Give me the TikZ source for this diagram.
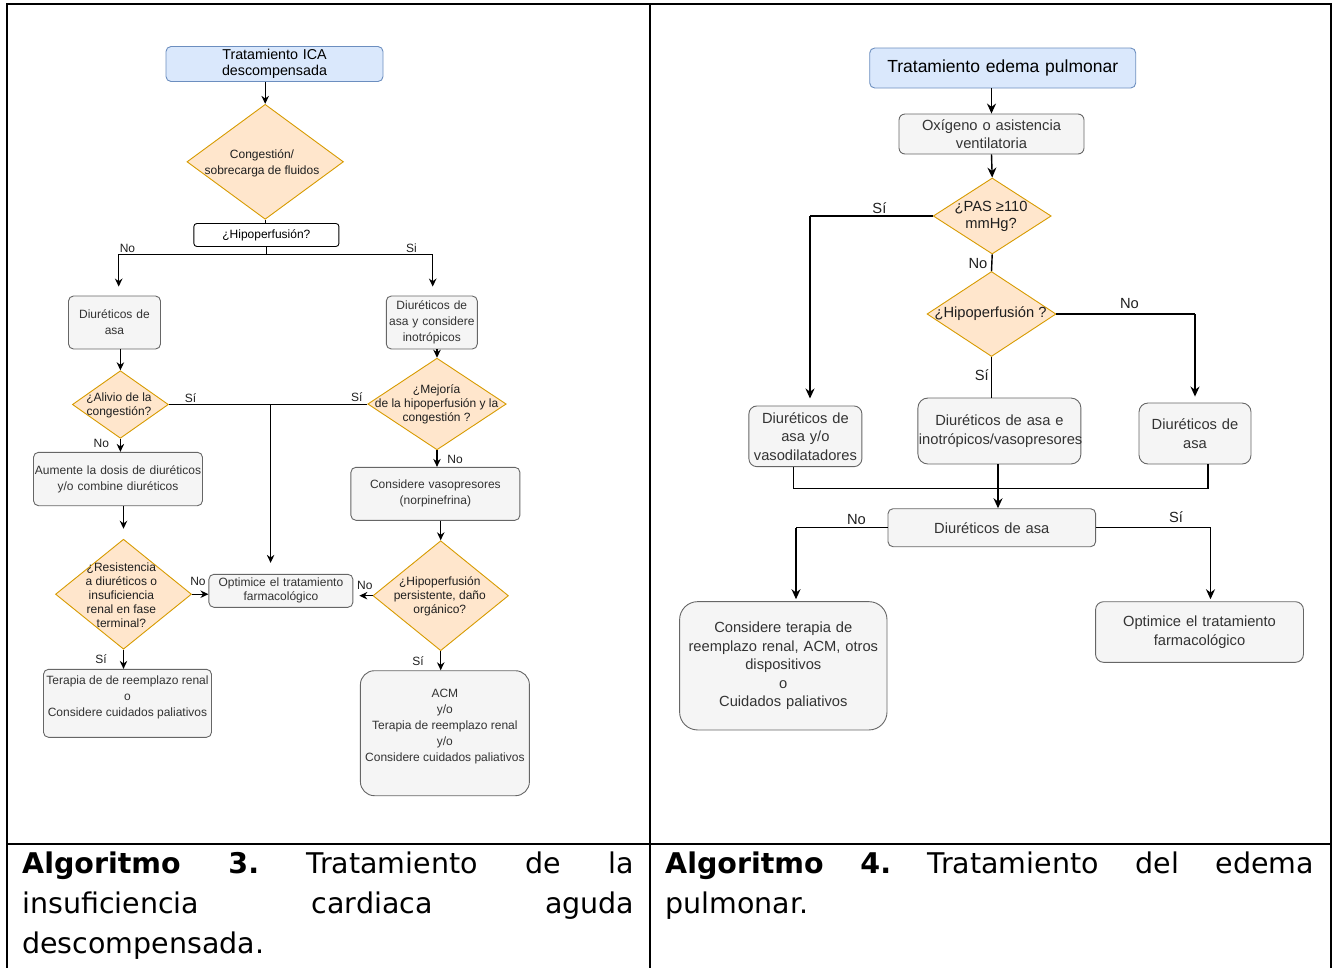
\documentclass[tikz,border=0pt]{standalone}
\usepackage{fontspec}
\setmainfont{Liberation Sans}
\newfontfamily\capfont{DejaVu Sans}
\usetikzlibrary{shapes.geometric,arrows.meta}

\definecolor{bluefill}{HTML}{DAE8FC}
\definecolor{blueline}{HTML}{6C8EBF}
\definecolor{orfill}{HTML}{FFE6CC}
\definecolor{orline}{HTML}{D79B00}
\definecolor{gfill}{HTML}{F5F5F5}
\definecolor{gline}{HTML}{666666}
\definecolor{gtext}{HTML}{333333}

% font sizes (left flowchart, right flowchart, captions)
\newcommand\fontLbox{\fontsize{12}{16}\selectfont}
\newcommand\fontLdia{\fontsize{12}{14}\selectfont}
\newcommand\fontLtitle{\fontsize{14.3}{16}\selectfont}
\newcommand\fontRbox{\fontsize{14.7}{18.5}\selectfont}
\newcommand\fontRtitle{\fontsize{17.5}{20}\selectfont}
\newcommand\fontCap{\capfont\fontsize{28.5}{40}\selectfont}
% one caption line spread over the full column width
\newcommand\spreadline[2]{\leavevmode\hbox to #1{#2}}

\begin{document}
\begin{tikzpicture}[x=1pt,y=-1pt,
  base/.style={inner xsep=1pt, inner ysep=0pt, align=center, line width=0.9pt},
  gbox/.style 2 args={base, draw=gline, fill=gfill, text=gtext, rounded corners=5pt, text width=#1pt, minimum height=#2pt},
  bbox/.style 2 args={base, draw=blueline, fill=bluefill, text=black, rounded corners=5pt, text width=#1pt, minimum height=#2pt},
  wbox/.style 2 args={base, draw=black, fill=white, text=black, rounded corners=3pt, text width=#1pt, minimum height=#2pt},
  dia/.style 2 args={diamond, draw=orline, fill=orfill, line width=0.9pt, inner sep=0pt, minimum width=#1pt, minimum height=#2pt},
  dtext/.style={inner sep=0pt, align=center, text=black!88},
  btext/.style={inner sep=0pt, align=center, text=gtext},
  lbl/.style={inner sep=0pt, text=black!88},
  conL/.style={line width=1.1pt},
  arrL/.style={conL, -{Stealth[length=8pt,width=7.5pt]}},
  conR/.style={line width=1.4pt},
  arrR/.style={conR, -{Stealth[length=10pt,width=9pt]}},
  frame/.style={line width=2pt, line cap=rect},
  capt/.style={inner sep=0pt, align=left, font=\fontCap, anchor=base west}
]
\useasboundingbox (0,0) rectangle (1332,967);

% ---------- table frame ----------
\draw[frame] (6.5,3.5) -- (1330.5,3.5);
\draw[frame] (6.5,3.5) -- (6.5,967);
\draw[frame] (1330.5,3.5) -- (1330.5,967);
\draw[frame] (650,3.5) -- (650,967);
\draw[frame] (6.5,844.3) -- (1330.5,844.3);

% ---------- left flowchart: ICA descompensada ----------
\begin{scope}[font=\fontLbox]
\node[bbox={215}{35}, font=\fontLtitle] (t1) at (274.5,64) {Tratamiento ICA\\descompensada};
\node[dia={156.5}{115}] (d1) at (265.2,161.8) {};
\node[dtext, font=\fontsize{12}{16.5}\selectfont] (d1t) at (262,163.3) {Congestión/\\sobrecarga de fluidos};
\node[wbox={143}{23}] (hq) at (266.4,235) {¿Hipoperfusión?};

\node[gbox={90}{53}] (b1) at (114.5,322.5) {Diuréticos de\\asa};
\node[gbox={89}{53}] (b2) at (431.8,322.5) {Diuréticos de\\asa y considere\\inotrópicos};

\node[dia={96}{67.6}] (d2) at (120.4,404.5) {};
\node[dtext, font=\fontLdia] (d2t) at (119,405.5) {¿Alivio de la\\congestión?};
\node[dia={138.5}{91.7}] (d3) at (437,404) {};
\node[dtext, font=\fontLdia] (d3t) at (436.6,404) {¿Mejoría\\de la hipoperfusión y la\\congestión ?};

\node[gbox={167}{53.4}] (b3) at (118,479) {Aumente la dosis de diuréticos\\y/o combine diuréticos};
\node[gbox={167}{53}] (b5) at (435.4,493.8) {Considere vasopresores\\(norpinefrina)};

\node[dia={136}{110}] (d4) at (123.5,594.2) {};
\node[dtext, font=\fontLdia] (d4t) at (121.4,595.5) {¿Resistencia\\a diuréticos o\\insuficiencia\\renal en fase\\terminal?};
\node[gbox={142}{33}, font=\fontLdia] (opt) at (280.9,590.8) {Optimice el tratamiento\\farmacológico};
\node[dia={135.5}{110}] (d5) at (440.7,595.7) {};
\node[dtext, font=\fontLdia] (d5t) at (439.8,596.6) {¿Hipoperfusión\\persistente, daño\\orgánico?};

\node[gbox={166}{68}] (b4) at (127.5,703.3) {};
\node[btext] (b4t) at (127.5,697) {Terapia de de reemplazo renal\\o\\Considere cuidados paliativos};
\node[gbox={167}{125}, rounded corners=14pt] (b6) at (444.9,733.2) {};
\node[btext] (b6t) at (444.9,726.5) {ACM\\y/o\\Terapia de reemplazo renal\\y/o\\Considere cuidados paliativos};

% connectors
\draw[arrL] (t1.south -| d1.north) -- (d1.north);
\draw[conL] (d1.south) -- (d1.south |- hq.north);
\coordinate (j1) at (266.4,254.3);
\coordinate (jl) at (118.7,254.3);
\coordinate (jr) at (432.7,254.3);
\draw[conL] (hq.south) -- (j1);
\draw[conL] (jl) -- (jr);
\draw[arrL, shorten >=9pt] (jl) -- (jl |- b1.north);
\draw[arrL, shorten >=9pt] (jr) -- (jr |- b2.north);
\draw[arrL] (b1.south -| d2.north) -- (d2.north);
\draw[arrL] (b2.south -| d3.north) -- (d3.north);
\draw[conL] (d2.east) -- (d2.east -| d3.west);
\coordinate (j2) at (270.6,404.5);
\draw[arrL, shorten >=11pt] (j2) -- (j2 |- opt.north);
\draw[arrL] (d2.south) -- (d2.south |- b3.north);
\draw[arrL, shorten >=10pt] (b3.south -| d4.north) -- (d4.north);
\draw[arrL] (d3.south) -- (d3.south |- b5.north);
\draw[arrL] (b5.south -| d5.north) -- (d5.north);
\draw[arrL] (d4.east) -- (d4.east -| opt.west);
\draw[arrL, shorten >=6pt] (d5.west) -- (d5.west -| opt.east);
\draw[arrL] (d4.south) -- (d4.south |- b4.north);
\draw[arrL] (d5.south) -- (d5.south |- b6.north);

% branch labels
\node[lbl] (l1) at (127.5,248) {No};
\node[lbl] (l2) at (411.5,248) {Si};
\node[lbl] (l3) at (190.5,398.3) {Sí};
\node[lbl] (l4) at (356.7,397.3) {Sí};
\node[lbl] (l5) at (101.4,443.3) {No};
\node[lbl] (l6) at (455,459.3) {No};
\node[lbl] (l7) at (198,581.7) {No};
\node[lbl] (l8) at (364.8,585) {No};
\node[lbl] (l9) at (101,659.3) {Sí};
\node[lbl] (l10) at (418,661) {Sí};
\end{scope}

% ---------- right flowchart: edema pulmonar ----------
\begin{scope}[font=\fontRbox]
\node[bbox={264}{40}, font=\fontRtitle] (t2) at (1002.7,68) {Tratamiento edema pulmonar};
\node[gbox={183}{40}, rounded corners=6pt] (o1) at (991.5,134) {Oxígeno o asistencia\\ventilatoria};
\node[dia={118}{76}] (p1) at (992.2,216) {};
\node[dtext, font=\fontsize{14.7}{16.5}\selectfont] (p1t) at (991,216.5) {¿PAS ≥110\\mmHg?};
\node[dia={129}{85}] (p2) at (991.5,314) {};
\node[dtext] (p2t) at (990.5,314) {¿Hipoperfusión ?};

\node[gbox={111}{60.7}, rounded corners=8pt] (r1) at (805.4,436.3) {Diuréticos de\\asa y/o\\vasodilatadores};
\node[gbox={161}{66}, rounded corners=10pt] (r2) at (999.4,431) {Diuréticos de asa e\\inotrópicos/vasopresores};
\node[gbox={110}{61}, rounded corners=9pt] (r3) at (1195,433.5) {Diuréticos de\\asa};
\node[gbox={205.6}{38}] (dasa) at (991.8,527.7) {Diuréticos de asa};
\node[gbox={205.4}{128.3}, rounded corners=18pt] (r4) at (783.3,665.8) {Considere terapia de\\reemplazo renal, ACM, otros\\dispositivos\\o\\Cuidados paliativos};
\node[gbox={205.9}{60.6}, rounded corners=8pt] (r5) at (1199.5,632) {Optimice el tratamiento\\farmacológico};

% connectors
\draw[arrR] (t2.south -| o1.north) -- (o1.north);
\draw[arrR] (o1.south) -- (p1.north);
\coordinate (cS) at (810,216);
\draw[conR] (p1.west) -- (cS);
\draw[arrR, shorten >=7pt] (cS) -- (cS |- r1.north);
\draw[conR] (p1.south) -- (p2.north);
\coordinate (cN) at (1195,314);
\draw[conR] (p2.east) -- (cN);
\draw[arrR, shorten >=6pt] (cN) -- (cN |- r3.north);
\draw[conR] (p2.south) -- (p2.south |- r2.north);
\coordinate (cL) at (793.5,488.5);
\coordinate (cRt) at (1208,488.5);
\draw[conR] (cL |- r1.south) -- (cL) -- (cRt) -- (cRt |- r3.south);
\coordinate (cM) at (998,488.5);
\draw[arrR] (r2.south -| cM) -- (cM |- dasa.north);
\coordinate (cNo) at (796,527.7);
\coordinate (cSi) at (1210.5,527.7);
\draw[conR] (dasa.west) -- (cNo);
\draw[arrR, shorten >=2pt] (cNo) -- (cNo |- r4.north);
\draw[conR] (dasa.east) -- (cSi);
\draw[arrR, shorten >=2pt] (cSi) -- (cSi |- r5.north);

% branch labels
\node[lbl] (m1) at (879.4,208.3) {Sí};
\node[lbl] (m2) at (978,263.3) {No};
\node[lbl] (m3) at (1129.5,304) {No};
\node[lbl] (m4) at (981.8,375) {Sí};
\node[lbl] (m5) at (856.5,519.3) {No};
\node[lbl] (m6) at (1176,516.7) {Sí};
\end{scope}

% ---------- captions (justified lines) ----------
\node[capt, text width=612pt] (cap3) at (22,873)
  {\spreadline{612pt}{\textbf{Algoritmo}\hfill\textbf{3.}\hfill Tratamiento\hfill de\hfill la}\\
   \spreadline{612pt}{insuficiencia\hfill cardiaca\hfill aguda}\\
   descompensada.};
\node[capt, text width=649pt] (cap4) at (665,873)
  {\spreadline{649pt}{\textbf{Algoritmo}\hfill\textbf{4.}\hfill Tratamiento\hfill del\hfill edema}\\
   pulmonar.};
\end{tikzpicture}
\end{document}
